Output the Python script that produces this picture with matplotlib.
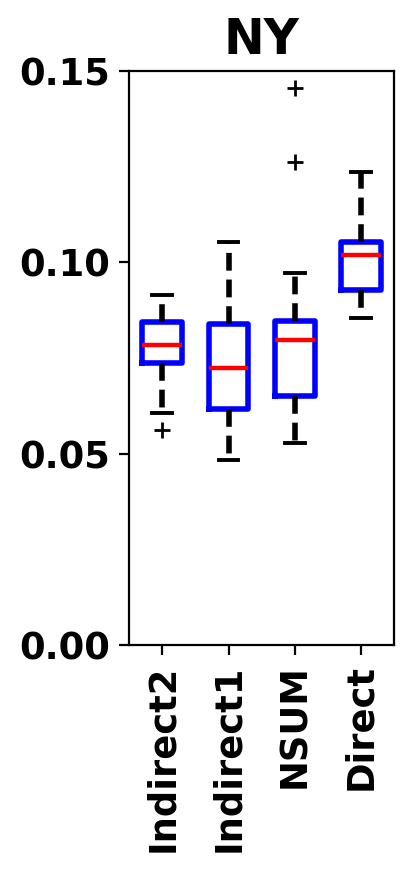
import matplotlib
matplotlib.use("Agg")
import matplotlib.pyplot as plt

categories = ["Indirect2", "Indirect1", "NSUM", "Direct"]
whislo = [0.0605, 0.0484, 0.0528, 0.0855]
q1 = [0.0737, 0.0617, 0.0652, 0.0927]
med = [0.0785, 0.0723, 0.0796, 0.1018]
q3 = [0.0845, 0.0840, 0.0846, 0.1054]
whishi = [0.0914, 0.1054, 0.0971, 0.1237]
fliers = [[0.0563], [], [0.1455, 0.1263], []]

stats = []
for i, c in enumerate(categories):
    stats.append(dict(label=c, whislo=whislo[i], q1=q1[i], med=med[i],
                      q3=q3[i], whishi=whishi[i], fliers=fliers[i]))

fig = plt.figure(figsize=(4.14 / 2, 8.72 / 2), dpi=200)
ax = fig.add_axes([0.312, 0.2603, 0.640, 0.6583])
ax.bxp(stats, widths=0.6, patch_artist=False,
       boxprops=dict(color="blue", linewidth=2.0),
       medianprops=dict(color="red", linewidth=1.6),
       whiskerprops=dict(color="black", linewidth=2.0, linestyle=(0, (3.2, 1.6))),
       capprops=dict(color="black", linewidth=1.4),
       flierprops=dict(marker="+", markeredgecolor="black", markersize=6,
                       markeredgewidth=1.0))
ax.set_ylim(0, 0.15)
ax.set_yticks([0.0, 0.05, 0.10, 0.15])
ax.set_yticklabels(["0.00", "0.05", "0.10", "0.15"], fontsize=13.3, fontweight="bold")
ax.set_xticklabels(categories, rotation=90, fontsize=13.3, fontweight="bold")
ax.set_title("NY", fontsize=17.5, fontweight="bold")
fig.savefig("out.png", dpi=200)
